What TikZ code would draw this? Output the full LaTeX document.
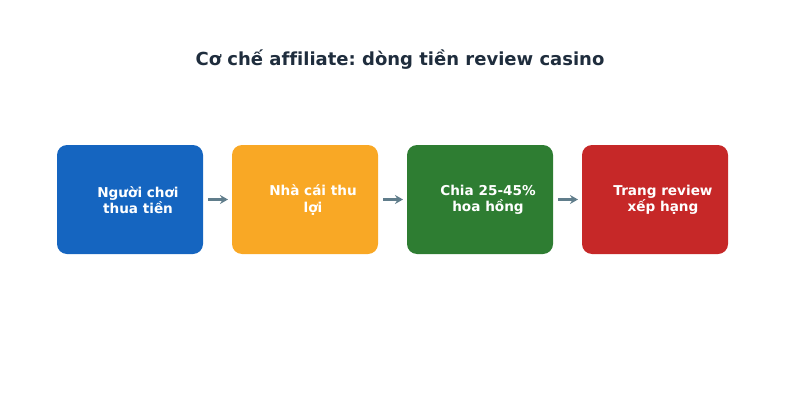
\documentclass[tikz,border=0pt]{standalone}
\usepackage{fontspec}
\setmainfont[Ligatures=NoCommon]{DejaVu Sans}
\frenchspacing
\usetikzlibrary{positioning,arrows.meta}
\definecolor{titlecol}{HTML}{1F2D3D}
\definecolor{arrowcol}{HTML}{607D8B}
\definecolor{losscol}{HTML}{1565C0}
\definecolor{housecol}{HTML}{F9A825}
\definecolor{sharecol}{HTML}{2E7D32}
\definecolor{rankcol}{HTML}{C62828}
\begin{document}
\begin{tikzpicture}[x=1pt,y=1pt,
  stage/.style={rounded corners=10pt, minimum width=146pt, minimum height=109pt, inner sep=0pt, outer sep=0pt},
  stagetext/.style={text=white, font=\bfseries\fontsize{13.6}{16.5}\selectfont, align=center},
  flow/.style={-{Stealth[length=8pt,width=9pt]}, line width=2.6pt, draw=arrowcol, shorten >=4pt, shorten <=5pt}]
% Fix the canvas to the reference size
\useasboundingbox (0,0) rectangle (800,400);
% Title on top
\node[text=titlecol, font=\bfseries\fontsize{18}{21}\selectfont] (title) at (400,340) {Cơ chế affiliate: dòng tiền review casino};
% Four boxes in a row
\node[stage, fill=losscol] (loss) at (130,200.5) {};
\node[stage, fill=housecol, right=29pt of loss] (house) {};
\node[stage, fill=sharecol, right=29pt of house] (share) {};
\node[stage, fill=rankcol, right=29pt of share] (rank) {};
% Box texts, a bit right of centre
\node[stagetext] (losstext) at ([xshift=8pt,yshift=-0.5pt]loss.center) {Người chơi\\thua tiền};
\node[stagetext] (housetext) at ([xshift=8pt,yshift=-0.5pt]house.center) {Nhà cái thu\\lợi};
\node[stagetext] (sharetext) at ([xshift=8pt,yshift=-0.5pt]share.center) {Chia 25-45\%\\hoa hồng};
\node[stagetext] (ranktext) at ([xshift=8pt,yshift=-0.5pt]rank.center) {Trang review\\xếp hạng};
% Arrows between boxes
\draw[flow] (loss) -- (house);
\draw[flow] (house) -- (share);
\draw[flow] (share) -- (rank);
\end{tikzpicture}
\end{document}
